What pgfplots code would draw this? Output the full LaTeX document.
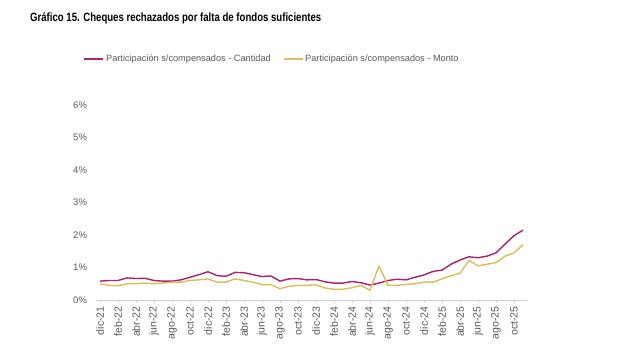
\documentclass[border=0pt]{standalone}
\usepackage{fontspec}
\setmainfont{Liberation Sans}
\usepackage{graphicx}
\usepackage{pgfplots}
\usepackage{pgfplotstable}
\pgfplotsset{compat=1.18}
\definecolor{cant}{HTML}{A8226F}
\definecolor{mont}{HTML}{DDBE55}
\definecolor{txt}{HTML}{595959}
\pgfplotstableread{
i cant mont
0 0.58 0.50
1 0.60 0.45
2 0.60 0.44
3 0.68 0.50
4 0.66 0.50
5 0.67 0.52
6 0.60 0.50
7 0.58 0.52
8 0.58 0.55
9 0.62 0.55
10 0.70 0.60
11 0.78 0.62
12 0.87 0.65
13 0.75 0.55
14 0.73 0.55
15 0.85 0.65
16 0.84 0.60
17 0.78 0.55
18 0.72 0.47
19 0.74 0.47
20 0.58 0.35
21 0.65 0.42
22 0.66 0.45
23 0.62 0.45
24 0.63 0.47
25 0.56 0.37
26 0.52 0.33
27 0.52 0.33
28 0.57 0.38
29 0.53 0.45
30 0.46 0.30
31 0.52 1.05
32 0.60 0.45
33 0.64 0.45
34 0.62 0.48
35 0.70 0.50
36 0.77 0.55
37 0.88 0.55
38 0.92 0.65
39 1.10 0.75
40 1.23 0.82
41 1.33 1.22
42 1.30 1.05
43 1.35 1.10
44 1.45 1.15
45 1.72 1.35
46 1.98 1.45
47 2.15 1.70
}\datatable
\begin{document}
\begin{tikzpicture}[x=1pt,y=1pt]
\path[use as bounding box, fill=white] (0,0) rectangle (633,356);
\node[anchor=west, inner sep=0] at (30,338) {\scalebox{0.8}[1]{\fontsize{12}{14}\selectfont\bfseries Gráfico 15. Cheques rechazados por falta de fondos suficientes}};
\begin{axis}[at={(95.5pt,56pt)}, anchor=south west, scale only axis,
  width=432pt, height=195pt,
  xmin=-0.5, xmax=47.5, ymin=0, ymax=6,
  /pgf/number format/assume math mode=true,
  axis x line*=bottom, axis y line*=left,
  axis line style={-},
  x axis line style={draw=gray!35, line width=0.8pt},
  y axis line style={draw=none},
  ytick={0,1,...,6},
  yticklabels={0\%,1\%,2\%,3\%,4\%,5\%,6\%},
  ytick style={draw=none},
  yticklabel style={font=\fontsize{9.5}{11}\selectfont, text=txt, xshift=-2pt},
  xtick={0,2,...,46},
  xticklabels={dic-21,feb-22,abr-22,jun-22,ago-22,oct-22,dic-22,feb-23,abr-23,jun-23,ago-23,oct-23,dic-23,feb-24,abr-24,jun-24,ago-24,oct-24,dic-24,feb-25,abr-25,jun-25,ago-25,oct-25},
  xticklabel style={rotate=90, anchor=east, font=\fontsize{10.5}{12}\selectfont, text=txt},
  tick align=outside, major tick length=3pt,
  xtick style={draw=gray!35},
  legend style={at={(0.409,1.236)}, anchor=center, draw=none, fill=none,
    legend columns=2, font=\fontsize{9.2}{11}\selectfont, text=txt,
    /tikz/every even column/.append style={column sep=10pt}},
  legend image code/.code={\draw[#1] (0pt,0pt) -- (19pt,0pt);},
]
\addplot[cant, line width=1.4pt, line join=round] table[x=i, y=cant] {\datatable};
\addlegendentry{Participación s/compensados - Cantidad}
\addplot[mont, line width=1.4pt, line join=round] table[x=i, y=mont] {\datatable};
\addlegendentry{Participación s/compensados - Monto}
\end{axis}
\end{tikzpicture}
\end{document}
